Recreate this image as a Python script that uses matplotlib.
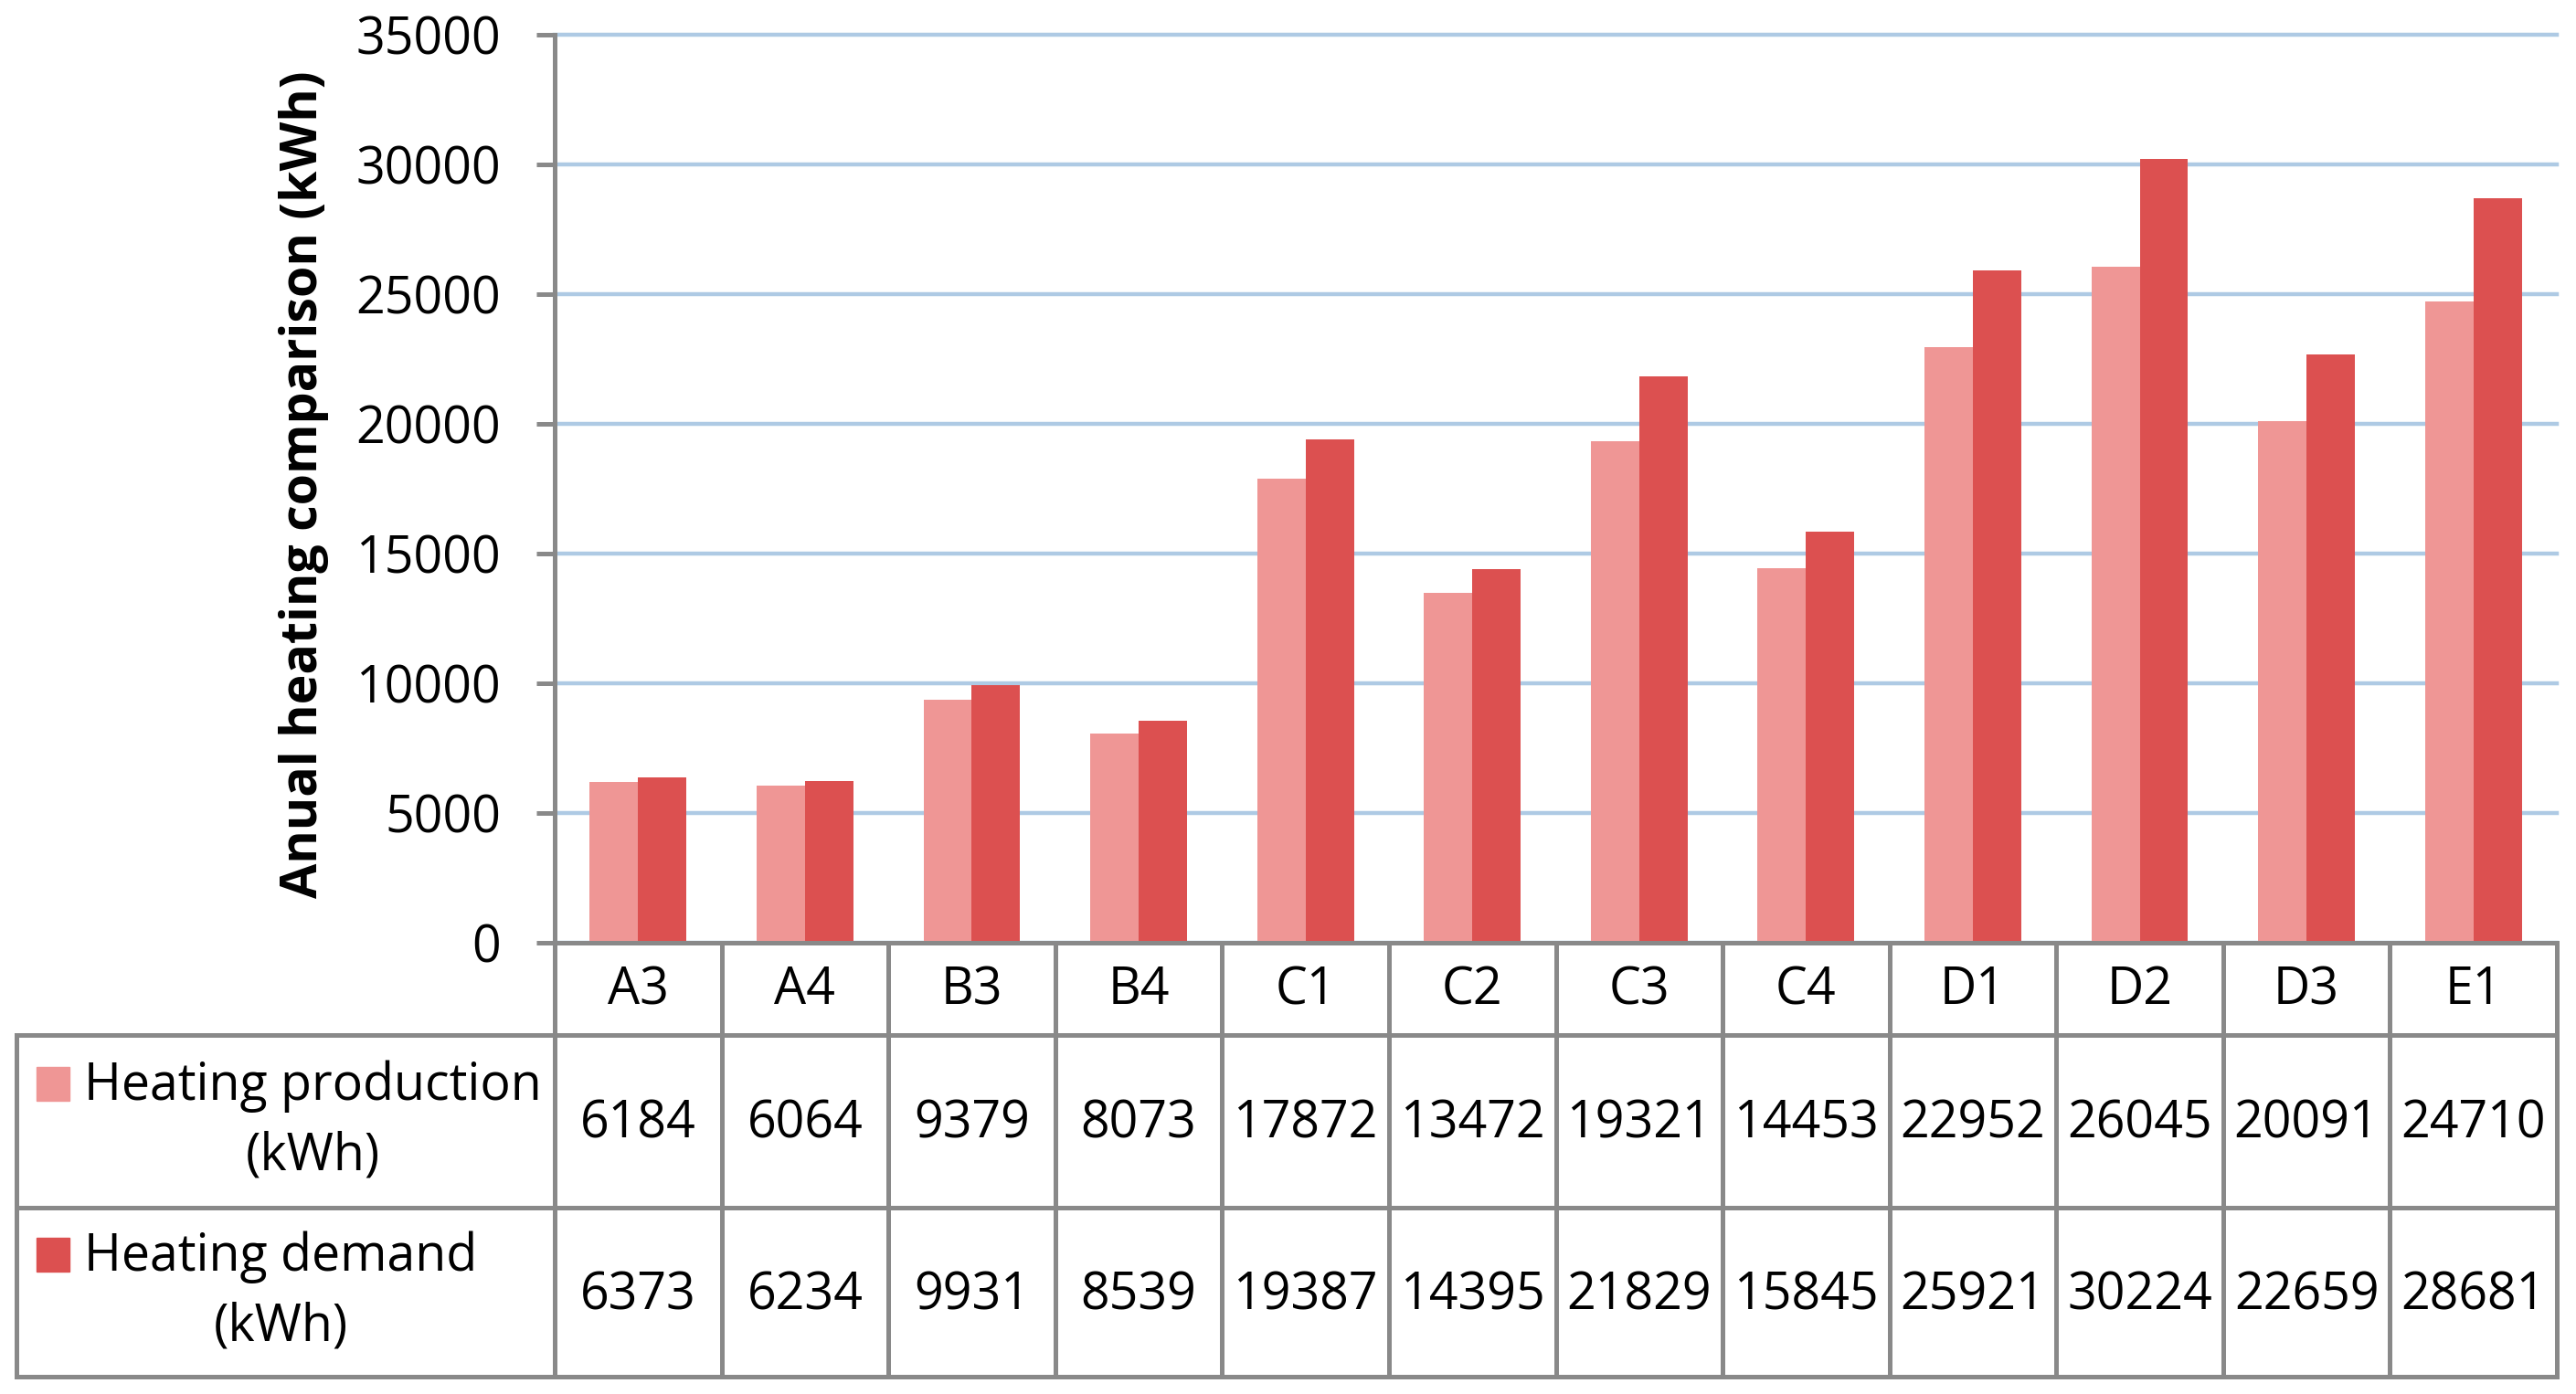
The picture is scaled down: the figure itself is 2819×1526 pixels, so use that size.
import matplotlib
matplotlib.use("Agg")
import matplotlib.pyplot as plt
from matplotlib.patches import Rectangle

plt.rcParams['font.family'] = ['Open Sans', 'DejaVu Sans']

categories = ['A3', 'A4', 'B3', 'B4', 'C1', 'C2', 'C3', 'C4', 'D1', 'D2', 'D3', 'E1']
production = [6184, 6064, 9379, 8073, 17872, 13472, 19321, 14453, 22952, 26045, 20091, 24710]
demand = [6373, 6234, 9931, 8539, 19387, 14395, 21829, 15845, 25921, 30224, 22659, 28681]
series_names = ['Heating production\n(kWh)', 'Heating demand\n(kWh)']
y_ticks = [0, 5000, 10000, 15000, 20000, 25000, 30000, 35000]

col_prod = '#EF9695'
col_dem = '#DC5050'
grey = '#898989'
grid_col = '#AECAE4'
fs = 40

W, H = 2819, 1526
fig = plt.figure(figsize=(W / 100, H / 100), dpi=100)

# layout in pixels
x_left, x_right = 607, 2798
y_top, y_zero = 38, 1032
tab_left = 18
rows = [1032, 1133, 1322, 1507]

ax = fig.add_axes([x_left / W, 1 - y_zero / H, (x_right - x_left) / W, (y_zero - y_top) / H])
n = len(categories)
xs = list(range(n))
bw = 0.29
ax.bar([x - bw / 2 for x in xs], production, width=bw, color=col_prod, zorder=2)
ax.bar([x + bw / 2 for x in xs], demand, width=bw, color=col_dem, zorder=2)

ax.set_xlim(-0.5, n - 0.5)
ax.set_ylim(0, 35000)
ax.set_xticks([])
ax.set_yticks(y_ticks)
ax.set_yticklabels([str(t) for t in y_ticks], fontsize=fs)
ax.tick_params(axis='y', length=14.4, width=3.6, color=grey, pad=28)
ax.set_axisbelow(True)
ax.yaxis.grid(True, color=grid_col, linewidth=3.2)
for gl in ax.get_ygridlines():
    gl.set_clip_on(False)
for s in ['top', 'right']:
    ax.spines[s].set_visible(False)
for s in ['left', 'bottom']:
    ax.spines[s].set_color(grey)
    ax.spines[s].set_linewidth(3.6)
    ax.spines[s].set_capstyle('projecting')

fig.text(333 / W, 1 - 530 / H, 'Anual heating comparison (kWh)', rotation=90,
         ha='center', va='center', fontsize=fs, fontweight='bold')

# data table below the plot
col_w = (x_right - x_left) / n
hdr = (x_left - tab_left) / col_w
tab = fig.add_axes([tab_left / W, 1 - rows[-1] / H, (x_right - tab_left) / W, (rows[-1] - rows[0]) / H])
tab.set_xlim(-0.5 - hdr, n - 0.5)
tab.set_ylim(rows[-1], rows[0])
tab.axis('off')

lw = 3.6
for yy in rows[1:]:
    tab.plot([-0.5 - hdr, n - 0.5], [yy, yy], color=grey, lw=lw, clip_on=False,
             solid_capstyle='projecting')
for k in range(n + 1):
    tab.plot([k - 0.5, k - 0.5], [rows[0], rows[-1]], color=grey, lw=lw, clip_on=False,
             solid_capstyle='projecting')
tab.plot([-0.5 - hdr, -0.5 - hdr], [rows[1], rows[-1]], color=grey, lw=lw, clip_on=False,
         solid_capstyle='projecting')

for i, c in enumerate(categories):
    tab.text(i, (rows[0] + rows[1]) / 2 + 2, c, ha='center', va='center', fontsize=fs)

x0 = -0.5 - hdr
for r, (name, vals, col) in enumerate(zip(series_names, [production, demand], [col_prod, col_dem])):
    yc = (rows[r + 1] + rows[r + 2]) / 2
    for i, v in enumerate(vals):
        tab.text(i, yc + 4, str(v), ha='center', va='center', fontsize=fs)
    tab.add_patch(Rectangle((x0 + (40 - tab_left) / col_w, yc - 60), 36 / col_w, 37,
                            color=col, clip_on=False))
    tab.text(x0 + (92 - tab_left) / col_w, yc, name, ha='left', va='center',
             multialignment='center', fontsize=fs, linespacing=1.45)

fig.savefig('out.png', dpi=100, facecolor='white')
